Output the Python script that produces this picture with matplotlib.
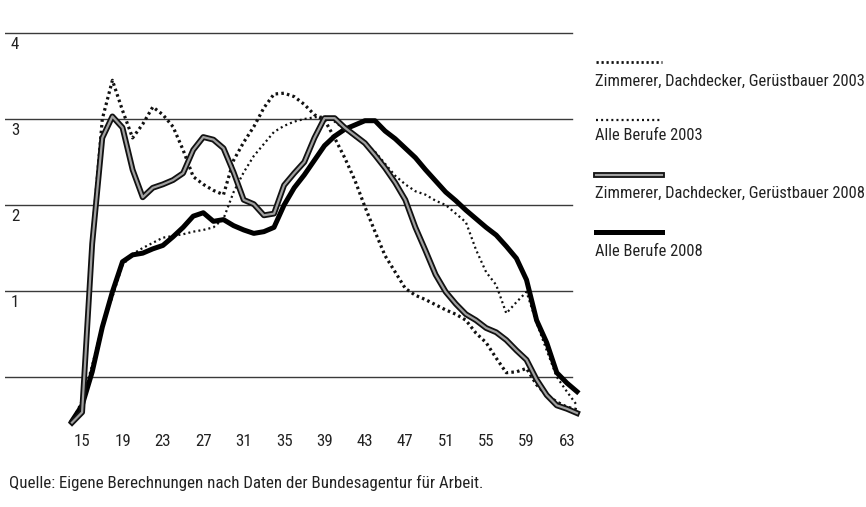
import matplotlib
matplotlib.use("Agg")
import matplotlib.pyplot as plt
from matplotlib.lines import Line2D
from matplotlib import font_manager

# ---------------- data ----------------
ages = list(range(14, 65))
zimmerer_2003 = [-0.52, -0.40, 1.60, 3.00, 3.45, 3.10, 2.78, 2.94, 3.14, 3.05,
                 2.91, 2.64, 2.33, 2.24, 2.17, 2.12, 2.52, 2.73, 2.91, 3.13,
                 3.29, 3.30, 3.26, 3.17, 3.05, 2.99, 2.78, 2.55, 2.29, 1.98,
                 1.69, 1.41, 1.22, 1.03, 0.95, 0.90, 0.84, 0.78, 0.73, 0.66,
                 0.51, 0.40, 0.22, 0.05, 0.06, 0.10, -0.09, -0.21, -0.29, -0.35,
                 -0.38]
alle_2003 = [-0.52, -0.27, 0.14, 0.60, 0.93, 1.30, 1.43, 1.50, 1.56, 1.62,
             1.64, 1.66, 1.69, 1.71, 1.74, 1.84, 2.15, 2.38, 2.57, 2.71,
             2.85, 2.92, 2.97, 3.00, 3.02, 3.03, 2.97, 2.88, 2.79, 2.72,
             2.62, 2.48, 2.34, 2.24, 2.16, 2.12, 2.05, 2.00, 1.90, 1.80,
             1.48, 1.22, 1.07, 0.74, 0.87, 0.99, 0.63, 0.31, 0.00, -0.17,
             -0.33]
zimmerer_2008 = [-0.53, -0.41, 1.55, 2.78, 3.03, 2.90, 2.41, 2.09, 2.20, 2.24,
                 2.29, 2.37, 2.64, 2.79, 2.76, 2.66, 2.38, 2.06, 2.01, 1.88,
                 1.90, 2.23, 2.37, 2.50, 2.78, 3.01, 3.01, 2.90, 2.81, 2.72,
                 2.58, 2.43, 2.26, 2.06, 1.74, 1.47, 1.19, 0.99, 0.85, 0.73,
                 0.66, 0.57, 0.52, 0.43, 0.31, 0.20, -0.03, -0.21, -0.33, -0.37,
                 -0.42]
alle_2008 = [-0.51, -0.33, 0.06, 0.58, 0.99, 1.34, 1.42, 1.44, 1.49, 1.53,
             1.63, 1.74, 1.87, 1.91, 1.81, 1.83, 1.76, 1.71, 1.67, 1.69,
             1.74, 2.00, 2.20, 2.35, 2.52, 2.69, 2.80, 2.88, 2.93, 2.98,
             2.98, 2.86, 2.77, 2.66, 2.55, 2.41, 2.28, 2.15, 2.05, 1.94,
             1.84, 1.74, 1.65, 1.52, 1.38, 1.13, 0.66, 0.40, 0.05, -0.07,
             -0.17]
tick_ages = list(range(15, 64, 4))
tick_labels = [str(a) for a in tick_ages]
grid_values = [0, 1, 2, 3, 4]
y_label_values = [1, 2, 3, 4]
legend_labels = ["Zimmerer, Dachdecker, Gerüstbauer 2003",
                 "Alle Berufe 2003",
                 "Zimmerer, Dachdecker, Gerüstbauer 2008",
                 "Alle Berufe 2008"]
source_text = "Quelle: Eigene Berechnungen nach Daten der Bundesagentur für Arbeit."

# ---------------- style ----------------
names = {f.name for f in font_manager.fontManager.ttflist}
FONT = "DejaVu Sans"
for cand in ["Roboto Condensed", "Open Sans Condensed", "Liberation Sans Narrow",
             "Noto Sans Condensed", "Roboto", "Open Sans"]:
    if cand in names:
        FONT = cand
        break
plt.rcParams["font.family"] = [FONT, "DejaVu Sans"]

W, H = 866, 507
fig = plt.figure(figsize=(W / 100, H / 100), dpi=100, facecolor="white")
renderer = fig.canvas.get_renderer()

# choose a font size so the long legend label is ~268 px wide
probe = fig.text(0, 0, legend_labels[0], fontsize=10)
wpx = probe.get_window_extent(renderer).width
probe.remove()
FS = 10 * 267 / wpx
FS_TICK = FS * 1.03
FS_SRC = FS * 1.025


def fx(px):
    return px / W


def fy(py):
    return 1 - py / H


# axes: pixel x 5..575, pixel y 20..440
ax = fig.add_axes([fx(5), fy(440), fx(575) - fx(5), fy(20) - fy(440)])
ax.set_facecolor("white")
px_per_year = 10.1
ax.set_xlim(14 + (5 - 72) / px_per_year, 14 + (575 - 72) / px_per_year)
ax.set_ylim((377 - 440) / 86, (377 - 20) / 86)
for s in ax.spines.values():
    s.set_visible(False)
ax.set_xticks([])
ax.set_yticks([])

for g in grid_values:
    ax.axhline(g, xmin=0, xmax=0.995, color="#3a3a3a", lw=1.0, zorder=1)

# y labels just below each grid line
ylab_x = 14 + (15 - 72) / px_per_year
for v in y_label_values:
    ax.text(ylab_x, v - 0.13, str(v), fontsize=FS_TICK, ha="center",
            va="center", color="#222")

# x tick labels
for a, lab in zip(tick_ages, tick_labels):
    ax.text(a, (377 - 441) / 86, lab, fontsize=FS_TICK, ha="center",
            va="center", color="#222", clip_on=False)

# series
ax.plot(ages, alle_2003, color="#111", lw=1.6, ls=(0, (0.9, 1.4)),
        zorder=3, clip_on=False)
ax.plot(ages, zimmerer_2003, color="#111", lw=2.3, ls=(0, (0.8, 1.0)),
        zorder=3, clip_on=False)
ax.plot(ages, alle_2008, color="#000", lw=3.6, zorder=4, clip_on=False,
        solid_joinstyle="round")
ax.plot(ages, zimmerer_2008, color="#111", lw=4.2, zorder=5, clip_on=False,
        solid_joinstyle="round")
ax.plot(ages, zimmerer_2008, color="#a0a0a0", lw=1.6, zorder=6, clip_on=False,
        solid_joinstyle="round")

# legend drawn manually (line above label)
legend_line_y = [62, 120, 175, 232]
legend_text_y = [81, 136, 193, 251]
x0, x1 = 596, 662
styles = [
    [dict(color="#111", lw=2.0, ls=(0, (0.8, 1.0)))],
    [dict(color="#111", lw=1.6, ls=(0, (0.9, 1.4)))],
    [dict(color="#111", lw=4.2), dict(color="#a0a0a0", lw=1.6)],
    [dict(color="#000", lw=3.6)],
]
for ly, ty, lab, st in zip(legend_line_y, legend_text_y, legend_labels, styles):
    for kw in st:
        fig.add_artist(Line2D([fx(x0), fx(x1)], [fy(ly), fy(ly)],
                              transform=fig.transFigure, **kw))
    fig.text(fx(x0 - 1), fy(ty), lab, fontsize=FS, ha="left", va="center",
             color="#222")

fig.text(fx(9), fy(483), source_text, fontsize=FS_SRC, ha="left", va="center",
         color="#222")

fig.savefig("out.png", dpi=100, facecolor="white")
